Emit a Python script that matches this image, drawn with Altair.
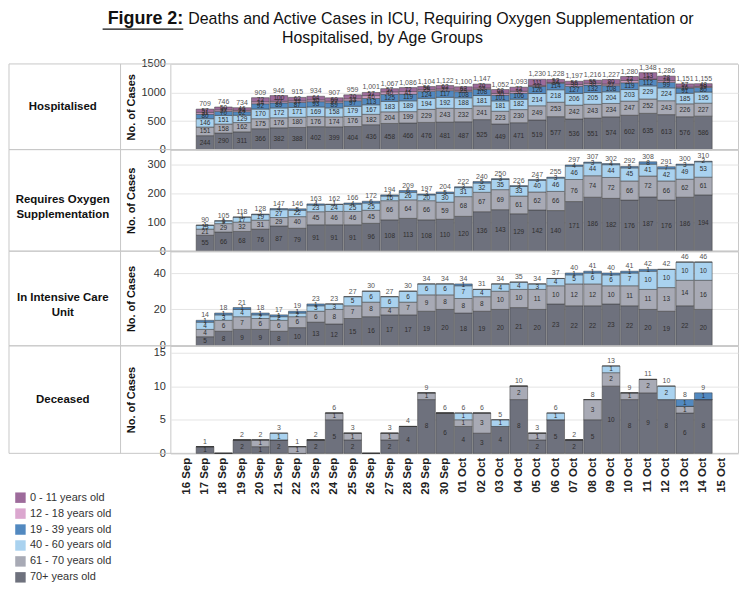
import altair as alt
import pandas as pd

DATES = [f"{d} Sep" for d in range(16, 31)] + [f"{d:02d} Oct" for d in range(1, 16)]
BAR_DATES = DATES[1:29]  # 17 Sep .. 14 Oct

AGES = ["0 - 11 years old", "12 - 18 years old", "19 - 39 years old",
        "40 - 60 years old", "61 - 70 years old", "70+ years old"]
COLORS = ["#9d6b9b", "#dba7cf", "#5289c0", "#a9d2ef", "#a8aab5", "#6e717d"]

# Hospitalised
hosp_70 = [244, 290, 311, 366, 382, 388, 402, 399, 404, 436, 458, 466, 476, 481, 487, 525, 449, 471, 519, 577, 536, 551, 574, 602, 635, 613, 576, 586]
hosp_61 = [151, 158, 162, 175, 176, 180, 176, 174, 176, 182, 204, 199, 229, 243, 232, 241, 223, 230, 249, 253, 242, 243, 234, 247, 252, 243, 226, 227]
hosp_40 = [146, 151, 129, 170, 172, 171, 169, 158, 179, 167, 183, 189, 194, 192, 188, 181, 181, 182, 214, 218, 206, 205, 204, 203, 229, 224, 185, 195]
hosp_19 = [80, 70, 62, 92, 89, 87, 93, 89, 97, 113, 125, 119, 124, 117, 108, 108, 101, 106, 126, 114, 127, 132, 108, 119, 112, 99, 91, 80]
hosp_12 = [31, 27, 24, 34, 27, 27, 30, 27, 33, 46, 40, 41, 25, 27, 23, 22, 30, 32, 11, 14, 30, 30, 27, 37, 7, 29, 16, 19]
hosp_0 = [57, 50, 46, 72, 100, 62, 64, 60, 70, 57, 57, 72, 56, 62, 62, 70, 68, 72, 111, 52, 56, 55, 80, 72, 113, 78, 57, 48]

# Requires oxygen supplementation
oxy_70 = [55, 66, 68, 76, 87, 79, 91, 91, 91, 96, 108, 113, 108, 110, 120, 136, 143, 129, 142, 140, 171, 186, 182, 176, 187, 176, 186, 194]
oxy_61 = [21, 29, 32, 31, 29, 40, 45, 46, 46, 45, 66, 64, 66, 59, 68, 67, 69, 61, 62, 66, 76, 74, 72, 66, 72, 66, 62, 61]
oxy_40 = [13, 9, 17, 19, 27, 22, 23, 24, 25, 25, 16, 26, 20, 30, 31, 32, 35, 33, 40, 46, 46, 44, 44, 45, 41, 42, 49, 53]
oxy_19 = [1, 1, 1, 2, 4, 5, 4, 1, 4, 6, 4, 6, 3, 5, 3, 5, 3, 3, 3, 3, 4, 3, 4, 5, 8, 7, 3, 2]

# In intensive care unit
icu_70 = [5, 8, 9, 9, 8, 10, 13, 12, 15, 16, 17, 17, 19, 20, 18, 19, 20, 21, 20, 23, 22, 22, 23, 22, 20, 19, 22, 20]
icu_61 = [4, 6, 7, 6, 6, 6, 6, 8, 7, 8, 4, 7, 9, 8, 8, 8, 10, 10, 11, 10, 12, 12, 10, 11, 11, 13, 14, 16]
icu_40 = [4, 3, 4, 2, 2, 2, 3, 3, 5, 6, 6, 6, 6, 6, 7, 4, 4, 4, 3, 4, 5, 6, 6, 7, 10, 10, 10, 10]
icu_19 = [1, 1, 1, 1, 1, 1, 1, 0, 0, 0, 0, 0, 0, 0, 1, 0, 0, 0, 0, 0, 1, 1, 1, 1, 1, 0, 0, 0]

# Deceased
dec_70 = [1, 0, 2, 1, 2, 0, 2, 5, 2, 0, 2, 4, 8, 6, 4, 3, 4, 8, 2, 5, 2, 5, 10, 8, 9, 8, 6, 8]
dec_61 = [0, 0, 0, 1, 0, 1, 0, 1, 1, 0, 1, 0, 1, 0, 1, 3, 0, 2, 1, 0, 0, 3, 2, 1, 2, 0, 1, 0]
dec_40 = [0, 0, 0, 0, 1, 0, 0, 0, 0, 0, 0, 0, 0, 0, 1, 0, 1, 0, 0, 1, 0, 0, 1, 0, 0, 2, 0, 0]
dec_19 = [0, 0, 0, 0, 0, 0, 0, 0, 0, 0, 0, 0, 0, 0, 0, 0, 0, 0, 0, 0, 0, 0, 0, 0, 0, 0, 1, 1]

W = 570
LEFT = -162
FONT = "Liberation Sans"


def to_long(series):
    rows = []
    for age, vals in series.items():
        ai = AGES.index(age)
        for d, v in zip(BAR_DATES, vals):
            rows.append({"date": d, "age": age, "value": v, "ord": len(AGES) - 1 - ai})
    return pd.DataFrame(rows)


legend = alt.Legend(orient="none", legendX=-156, legendY=484, direction="vertical",
                    title=None, symbolType="square", symbolSize=110, symbolStrokeWidth=0,
                    labelFontSize=11, labelColor="#333", rowPadding=4, labelFont=FONT)


def make_row(df, label, ymax, ticks, h, bottom=False):
    xscale = alt.Scale(domain=DATES, paddingInner=0.04, paddingOuter=0.4)
    if bottom:
        xaxis = alt.Axis(title=None, labelAngle=270, labelFontSize=11.5, labelColor="#222",
                         labelFontWeight="bold", ticks=False, domain=False, labelPadding=4)
    else:
        xaxis = None
    yscale = alt.Scale(domain=[0, ymax], nice=False)
    yaxis = alt.Axis(values=ticks, format="d", title="No. of Cases", titleFontSize=11,
                     titleFontWeight="bold", titleColor="#111", labelFontSize=11,
                     labelColor="#333", ticks=False, domain=False, gridColor="#e4e4e4",
                     minExtent=30, titlePadding=4, labelPadding=5)
    x = alt.X("date:N", scale=xscale, axis=xaxis)
    base = alt.Chart(df)
    bars = base.mark_bar(stroke="#3a3a3a", strokeWidth=0.5).encode(
        x=x,
        y=alt.Y("value:Q", stack="zero", scale=yscale, axis=yaxis),
        color=alt.Color("age:N", scale=alt.Scale(domain=AGES, range=COLORS), legend=legend),
        order=alt.Order("ord:Q", sort="ascending"),
    )
    seg = base.transform_stack(
        stack="value", groupby=["date"], as_=["y0", "y1"],
        sort=[alt.SortField("ord", order="ascending")]
    ).transform_calculate(mid="(datum.y0 + datum.y1) / 2").transform_filter(
        "datum.value > 0"
    ).mark_text(fontSize=6.5, color="#2e2e2e").encode(
        x=x, y=alt.Y("mid:Q", scale=yscale, axis=yaxis), text="value:Q"
    )
    tot = base.transform_aggregate(total="sum(value)", groupby=["date"]).transform_filter(
        "datum.total > 0"
    ).mark_text(dy=-5, fontSize=7, color="#555").encode(
        x=x, y=alt.Y("total:Q", scale=yscale, axis=yaxis),
        text=alt.Text("total:Q", format=","),
    )
    one = pd.DataFrame({"t": [label]})
    lab = alt.Chart(one).mark_text(fontSize=11.5, fontWeight="bold", color="#111",
                                   lineBreak="\n", align="center", baseline="middle",
                                   lineHeight=15).encode(
        x=alt.value(-108), y=alt.value(h / 2), text="t:N")
    rule_top = alt.Chart(one).mark_rule(color="#c8c8c8").encode(
        x=alt.value(LEFT), x2=alt.value(W), y=alt.value(0))
    rule_bot = alt.Chart(one).mark_rule(color="#c8c8c8").encode(
        x=alt.value(LEFT), x2=alt.value(W), y=alt.value(h))
    rule_v = alt.Chart(one).mark_rule(color="#c8c8c8").encode(
        x=alt.value(-50), y=alt.value(0), y2=alt.value(h))
    rule_l = alt.Chart(one).mark_rule(color="#c8c8c8").encode(
        x=alt.value(LEFT), y=alt.value(0), y2=alt.value(h))
    return alt.layer(rule_top, rule_bot, rule_v, rule_l, bars, seg, tot, lab).properties(
        width=W, height=h)


hosp = to_long({AGES[5]: hosp_70, AGES[4]: hosp_61, AGES[3]: hosp_40,
                AGES[2]: hosp_19, AGES[1]: hosp_12, AGES[0]: hosp_0})
oxy = to_long({AGES[5]: oxy_70, AGES[4]: oxy_61, AGES[3]: oxy_40, AGES[2]: oxy_19})
icu = to_long({AGES[5]: icu_70, AGES[4]: icu_61, AGES[3]: icu_40, AGES[2]: icu_19})
dec = to_long({AGES[5]: dec_70, AGES[4]: dec_61, AGES[3]: dec_40, AGES[2]: dec_19})

r1 = make_row(hosp, "Hospitalised", 1500, [0, 500, 1000, 1500], 86)
r2 = make_row(oxy, "Requires Oxygen\nSupplementation", 350, [0, 100, 200, 300], 102)
r3 = make_row(icu, "In Intensive Care\nUnit", 52, [0, 20, 40], 95)
r4 = make_row(dec, "Deceased", 16, [0, 5, 10, 15], 108, bottom=True)

tdf = pd.DataFrame({"t": ["x"]})
t1 = alt.Chart(tdf).mark_text(align="right", baseline="middle", fontSize=18, fontWeight="bold",
                              color="#111").encode(
    x=alt.value(13), y=alt.value(9), text=alt.value("Figure 2:"))
t2 = alt.Chart(tdf).mark_text(align="left", baseline="middle", fontSize=16, color="#111").encode(
    x=alt.value(18), y=alt.value(9),
    text=alt.value("Deaths and Active Cases in ICU, Requiring Oxygen Supplementation or"))
t3 = alt.Chart(tdf).mark_text(align="center", baseline="middle", fontSize=16, color="#111").encode(
    x=alt.value(213), y=alt.value(28), text=alt.value("Hospitalised, by Age Groups"))
ul = alt.Chart(tdf).mark_rule(color="#111", strokeWidth=1.2).encode(
    x=alt.value(-68), x2=alt.value(13), y=alt.value(19))
title_chart = alt.layer(ul, t1, t2, t3).properties(
    width=W, height=54, view=alt.ViewBackground(stroke="transparent"))

chart = alt.vconcat(title_chart, r1, r2, r3, r4, spacing=0, bounds="flush").properties(
    padding=0
).configure(font=FONT).configure_view(stroke="#c8c8c8")

chart.save("out.html", embed_options={"renderer": "svg", "actions": False})
